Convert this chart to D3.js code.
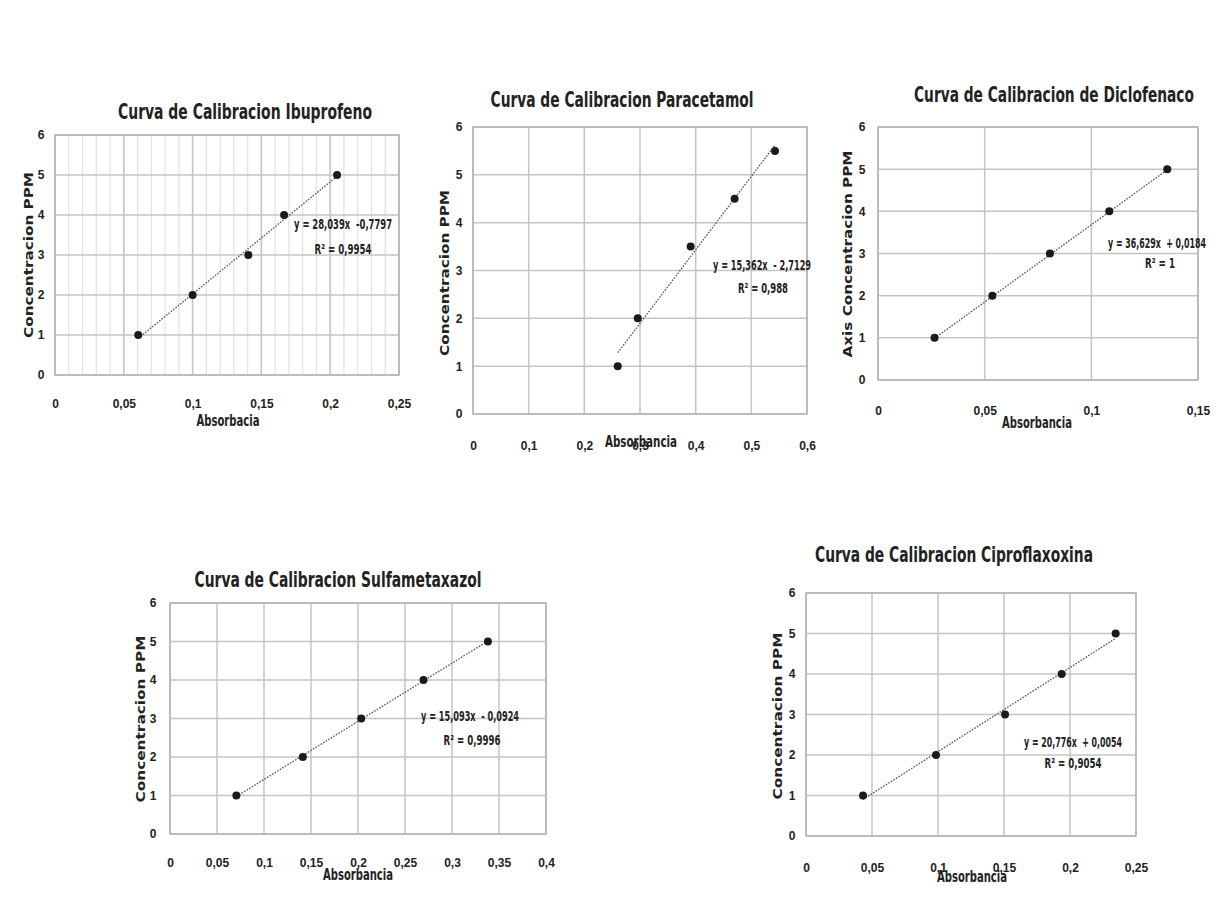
<!DOCTYPE html>
<html>
<head>
<meta charset="utf-8">
<script src="https://cdn.jsdelivr.net/npm/d3@7"></script>
<style>
  body { margin: 0; background: #fff; }
  svg text { fill: #222; }
  .narrow { font-family: "Liberation Sans Narrow", "DejaVu Sans Condensed", "Roboto Condensed", sans-serif; font-weight: bold; font-stretch: condensed; }
  .tick-lbl { font-family: "Liberation Sans", Arial, sans-serif; font-weight: bold; }
  .wide { font-family: "DejaVu Sans", Verdana, sans-serif; font-weight: bold; }
</style>
</head>
<body>
<svg id="chart" width="1216" height="899"></svg>
<script>
// calibration data
var ibuprofenoX = [0.0605, 0.1, 0.1405, 0.1665, 0.205];
var ibuprofenoY = [1, 2, 3, 4, 5];
var paracetamolX = [0.26, 0.296, 0.391, 0.47, 0.5425];
var paracetamolY = [1, 2, 3.5, 4.5, 5.5];
var diclofenacoX = [0.0265, 0.0536, 0.0806, 0.1084, 0.1356];
var diclofenacoY = [1, 2, 3, 4, 5];
var sulfaX = [0.0706, 0.1413, 0.2034, 0.2697, 0.3382];
var sulfaY = [1, 2, 3, 4, 5];
var ciproX = [0.0432, 0.0985, 0.1508, 0.1937, 0.2346];
var ciproY = [1, 2, 3, 4, 5];

// trendline coefficients (slope, intercept) as printed
var slopes = [28.039, 15.362, 36.629, 15.093, 20.776];
var intercepts = [-0.7797, -2.7129, 0.0184, -0.0924, 0.0054];

var titles = ["Curva de Calibracion Ibuprofeno", "Curva de Calibracion Paracetamol",
  "Curva de Calibracion de Diclofenaco", "Curva de Calibracion Sulfametaxazol",
  "Curva de Calibracion Ciproflaxoxina"];
var yTitles = ["Concentracion PPM", "Concentracion PPM", "Axis Concentracion PPM",
  "Concentracion PPM", "Concentracion PPM"];
var xTitles = ["Absorbacia", "Absorbancia", "Absorbancia", "Absorbancia", "Absorbancia"];
var equations = ["y = 28,039x  -0,7797", "y = 15,362x  - 2,7129", "y = 36,629x  + 0,0184",
  "y = 15,093x  - 0,0924", "y = 20,776x  + 0,0054"];
var r2Labels = ["R\u00b2 = 0,9954", "R\u00b2 = 0,988", "R\u00b2 = 1", "R\u00b2 = 0,9996", "R\u00b2 = 0,9054"];

var yTicks = [0, 1, 2, 3, 4, 5, 6];
var xTicks1 = [0, 0.05, 0.1, 0.15, 0.2, 0.25];
var xTicks2 = [0, 0.1, 0.2, 0.3, 0.4, 0.5, 0.6];
var xTicks3 = [0, 0.05, 0.1, 0.15];
var xTicks4 = [0, 0.05, 0.1, 0.15, 0.2, 0.25, 0.3, 0.35, 0.4];
var xTicks5 = [0, 0.05, 0.1, 0.15, 0.2, 0.25];
var minorX1 = d3.range(0, 26).map(function(i) { return i / 100; }); // only ibuprofeno has minor grid

// layout of each panel (pixels)
var panels = [
  {l: 55, t: 135, r: 399, b: 375, xs: ibuprofenoX, ys: ibuprofenoY, xt: xTicks1, minor: minorX1,
   title: [245, 119, 254], ytl: [29, 255, 166], xtl: [228, 426, 63], eq: [343, 229], r2: [343, 254, 57], xlab: 403, ylab: 41},
  {l: 473, t: 127, r: 807, b: 414, xs: paracetamolX, ys: paracetamolY, xt: xTicks2, minor: null,
   title: [622, 107, 263], ytl: [445, 273, 166], xtl: [641, 447, 72], eq: [762, 270], r2: [763, 293, 50], xlab: 445, ylab: 459},
  {l: 878, t: 127, r: 1198, b: 380, xs: diclofenacoX, ys: diclofenacoY, xt: xTicks3, minor: null,
   title: [1054, 102, 280], ytl: [848, 254, 207], xtl: [1037, 428, 70], eq: [1157, 248], r2: [1160, 268, 30], xlab: 410, ylab: 862},
  {l: 170, t: 603, r: 546, b: 834, xs: sulfaX, ys: sulfaY, xt: xTicks4, minor: null,
   title: [338, 587, 287], ytl: [141, 719, 167], xtl: [358, 880, 70], eq: [470, 721], r2: [472, 745, 57], xlab: 862, ylab: 153},
  {l: 806, t: 593, r: 1136, b: 836, xs: ciproX, ys: ciproY, xt: xTicks5, minor: null,
   title: [954, 562, 278], ytl: [778, 716, 167], xtl: [972, 882, 70], eq: [1073, 747], r2: [1073, 768, 57], xlab: 867, ylab: 792}
];

var svg = d3.select("#chart");
var fmt = function(d) { return String(d).replace(".", ","); };

panels.forEach(function(p, i) {
  var xMax = p.xt[p.xt.length - 1];
  var x = d3.scaleLinear().domain([0, xMax]).range([p.l, p.r]);
  var y = d3.scaleLinear().domain([0, 6]).range([p.b, p.t]);
  var g = svg.append("g");

  // minor vertical grid
  if (p.minor) {
    g.selectAll(".minor").data(p.minor).enter().append("line")
      .attr("x1", function(d) { return x(d); }).attr("x2", function(d) { return x(d); })
      .attr("y1", p.t).attr("y2", p.b)
      .attr("stroke", "#e2e2e2").attr("stroke-width", 1.2);
  }
  // major grid
  g.selectAll(".vg").data(p.xt).enter().append("line")
    .attr("x1", function(d) { return x(d); }).attr("x2", function(d) { return x(d); })
    .attr("y1", p.t).attr("y2", p.b)
    .attr("stroke", "#c4c4c4").attr("stroke-width", 1.5);
  g.selectAll(".hg").data(yTicks).enter().append("line")
    .attr("x1", p.l).attr("x2", p.r)
    .attr("y1", function(d) { return y(d); }).attr("y2", function(d) { return y(d); })
    .attr("stroke", "#c4c4c4").attr("stroke-width", 1.5);
  g.append("rect").attr("x", p.l).attr("y", p.t)
    .attr("width", p.r - p.l).attr("height", p.b - p.t)
    .attr("fill", "none").attr("stroke", "#b4b4b4").attr("stroke-width", 1.5);

  // tick labels through d3 axes, no lines
  var xa = g.append("g").attr("transform", "translate(0," + (p.xlab - 4) + ")")
    .call(d3.axisBottom(x).tickValues(p.xt).tickFormat(fmt).tickSize(0).tickPadding(0));
  var ya = g.append("g").attr("transform", "translate(" + (p.ylab + 4) + ",0)")
    .call(d3.axisLeft(y).tickValues(yTicks).tickFormat(fmt).tickSize(0).tickPadding(0));
  [xa, ya].forEach(function(a) {
    a.select(".domain").remove();
    a.selectAll("text").attr("class", "tick-lbl").style("font-size", "12px").attr("fill", "#222");
    a.attr("font-family", null).attr("font-size", null);
  });
  ya.selectAll("text").attr("text-anchor", "middle").attr("x", -4);

  // trendline
  var x0 = d3.min(p.xs), x1 = d3.max(p.xs);
  g.append("line")
    .attr("x1", x(x0)).attr("y1", y(slopes[i] * x0 + intercepts[i]))
    .attr("x2", x(x1)).attr("y2", y(slopes[i] * x1 + intercepts[i]))
    .attr("stroke", "#555").attr("stroke-width", 1.3).attr("stroke-dasharray", "1.6,1.4");

  // points
  g.selectAll(".pt").data(p.xs).enter().append("circle")
    .attr("cx", function(d) { return x(d); })
    .attr("cy", function(d, j) { return y(p.ys[j]); })
    .attr("r", 4).attr("fill", "#1a1a1a");

  // equation + R2
  g.append("text").attr("class", "narrow").attr("x", p.eq[0]).attr("y", p.eq[1])
    .attr("text-anchor", "middle").style("font-size", "14px").style("white-space", "pre")
    .attr("textLength", 98).attr("lengthAdjust", "spacingAndGlyphs").text(equations[i]);
  g.append("text").attr("class", "narrow").attr("x", p.r2[0]).attr("y", p.r2[1])
    .attr("text-anchor", "middle").style("font-size", "14px")
    .attr("textLength", p.r2[2]).attr("lengthAdjust", "spacingAndGlyphs").text(r2Labels[i]);

  // titles
  g.append("text").attr("class", "narrow").attr("x", p.title[0]).attr("y", p.title[1])
    .attr("text-anchor", "middle").style("font-size", "21px")
    .attr("textLength", p.title[2]).attr("lengthAdjust", "spacingAndGlyphs").text(titles[i]);
  g.append("text").attr("class", "wide")
    .attr("transform", "translate(" + p.ytl[0] + "," + p.ytl[1] + ") rotate(-90)")
    .attr("text-anchor", "middle").attr("dy", "0.35em").style("font-size", "12.5px")
    .attr("textLength", p.ytl[2]).attr("lengthAdjust", "spacingAndGlyphs").text(yTitles[i]);
  g.append("text").attr("class", "narrow").attr("x", p.xtl[0]).attr("y", p.xtl[1])
    .attr("text-anchor", "middle").style("font-size", "15px")
    .attr("textLength", p.xtl[2]).attr("lengthAdjust", "spacingAndGlyphs").text(xTitles[i]);
});
</script>
</body>
</html>
